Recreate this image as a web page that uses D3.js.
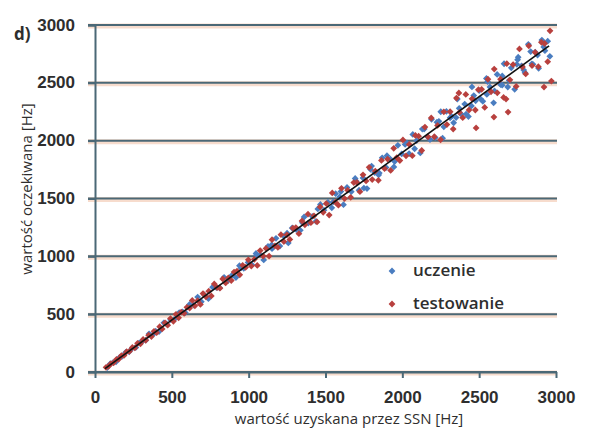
<!DOCTYPE html>
<html>
<head>
<meta charset="utf-8">
<style>
body { margin: 0; background: #fff; }
svg { display: block; font-family: "Open Sans", sans-serif; }
.grid line { stroke: #4b6876; stroke-width: 2; }
.halo line { stroke: #f7dccd; stroke-width: 5; }
.axis text { font-size: 17px; font-weight: 600; fill: #2e2e2e; }
.axis .domain, .axis .tick line { stroke: #4b6876; stroke-width: 2; }
.title { font-size: 15px; fill: #2e2e2e; }
.legend text { font-size: 17px; font-weight: 600; fill: #2e2e2e; }
</style>
<title>wartość oczekiwana vs SSN</title>
</head>
<body>
<svg width="614" height="430"></svg>
<script src="https://d3js.org/d3.v7.min.js"></script>
<script>
// tick labels
var xTicks = [0, 500, 1000, 1500, 2000, 2500, 3000];
var yTicks = [0, 500, 1000, 1500, 2000, 2500, 3000];

// series "uczenie" (blue) [x, y]
var uczenie = [
  [80,39],[98,70],[118,82],[137,88],[160,127],[176,135],[199,169],[222,174],[240,203],[266,212],
  [288,252],[305,261],[331,275],[352,330],[378,325],[395,353],[417,350],[448,425],[466,415],[492,452],
  [515,454],[548,514],[570,520],[588,513],[615,584],[642,578],[668,648],[692,608],[711,667],[738,634],
  [765,733],[790,730],[811,728],[840,819],[866,790],[889,834],[917,816],[940,919],[968,897],[996,947],
  [1021,927],[1048,1025],[1075,1012],[1098,969],[1126,1087],[1152,1066],[1178,1156],[1203,1089],[1230,1174],[1258,1116],
  [1283,1245],[1310,1232],[1336,1225],[1361,1340],[1388,1288],[1414,1345],[1438,1303],[1467,1448],[1490,1399],[1516,1467],
  [1541,1419],[1566,1542],[1592,1513],[1617,1447],[1640,1595],[1668,1559],[1693,1673],[1718,1572],[1744,1678],[1770,1586],
  [1793,1752],[1820,1724],[1846,1704],[1869,1852],[1894,1768],[1922,1841],[1945,1773],[1971,1960],[1996,1885],[2018,1967],
  [2044,1888],[2068,2054],[2093,2001],[2117,1894],[2142,2100],[2166,2032],[2190,2185],[2214,2026],[2238,2167],[2262,2021],
  [2287,2253],[2311,2198],[2334,2155],[2358,2360],[2383,2229],[2406,2316],[2430,2209],[2453,2465],[2477,2345],[2500,2433],
  [2524,2340],[2547,2538],[2570,2464],[2594,2327],[2617,2573],[2640,2484],[2662,2665],[2686,2464],[2709,2630],[2731,2444],
  [2754,2722],[2776,2647],[2798,2588],[2820,2833],[2843,2664],[2865,2765],[2887,2626],[2908,2870],[2928,2778],[2946,2860],
  [2960,2729],
  [2030,1980],[2080,1930],[2130,2100],[2180,2010],[2225,2160],[2270,2120],[2320,2210],[2370,2280],[2415,2230],[2465,2390],
  [2510,2360],[2555,2510],[2600,2430],[2650,2560],[2695,2520],[2745,2660],[2790,2610],[2835,2770],[2880,2740],[2920,2810],
  [2250,2250],[2350,2200],[2450,2300],[2550,2400],[2650,2480],[2750,2700],[2850,2660],[1700,1650],[1750,1590],[1800,1780],
  [1850,1720],[1900,1870],[1950,1820],[1550,1470],[1600,1560],[1450,1410],[1350,1290],[1250,1200],[1150,1100],[1050,1010],
  [950,900]
];

// series "testowanie" (red) [x, y]
var testowanie = [
  [72,40],[88,49],[103,72],[121,79],[140,110],[155,112],[172,142],[189,143],[206,176],[224,178],
  [243,212],[259,208],[277,248],[296,244],[313,281],[330,274],[349,318],[367,306],[384,352],[401,340],
  [421,392],[437,372],[456,425],[473,405],[491,462],[510,438],[527,499],[544,468],
  [561,517],[580,507],[598,559],[616,553],[633,619],[650,572],[668,617],[686,584],[703,678],[722,650],
  [740,699],[757,658],[776,761],[795,730],[813,725],[831,805],[850,770],[868,814],[887,791],[905,864],
  [924,873],[942,840],[961,922],[980,904],[998,970],[1017,916],[1037,974],[1056,921],[1075,1050],[1094,1003],
  [1113,1068],[1133,1002],[1152,1144],[1171,1091],[1190,1077],[1210,1187],[1229,1128],[1249,1186],[1268,1146],[1288,1243],
  [1307,1249],[1327,1196],[1347,1306],[1366,1273],[1386,1364],[1405,1291],[1425,1350],[1445,1297],[1465,1427],[1485,1381],
  [1505,1456],[1524,1357],[1544,1548],[1564,1468],[1584,1442],[1604,1588],[1624,1499],[1644,1572],[1664,1510],[1684,1638],
  [1704,1639],[1724,1559],[1744,1705],[1764,1652],[1784,1770],[1804,1664],[1824,1737],[1844,1657],[1864,1829],[1884,1759],
  [1904,1841],[1924,1743],[1944,1934],[1964,1854],[1984,1828],[2004,2006],[2024,1869],[2045,1967],[2065,1870],[2085,2045],
  [2106,2039],[2126,1915],[2147,2118],[2167,2033],[2188,2196],[2208,2034],[2229,2132],[2249,2008],[2270,2249],[2290,2139],
  [2311,2250],[2331,2100],[2352,2368],[2372,2244],[2393,2199],[2413,2400],[2434,2265],[2454,2362],[2475,2265],[2495,2441],
  [2516,2444],[2536,2287],[2557,2531],[2577,2423],[2598,2619],[2618,2414],[2639,2531],[2659,2374],[2680,2666],[2700,2526],
  [2721,2658],[2741,2469],[2762,2793],[2782,2637],[2803,2577],[2823,2820],[2844,2649],[2864,2764],[2885,2640],[2905,2851],
  [2926,2840],[2946,2683],
  [2961,2950],[2970,2515],[2922,2463],[2688,2247],[2596,2204],[2368,2412],[2480,2110],[2675,2360]
];

// reference line end points
var refLine = [[65, 30], [2955, 2820]];

var svg = d3.select("svg");

var x = d3.scaleLinear().domain([0, 3000]).range([95, 556]);
var y = d3.scaleLinear().domain([0, 3000]).range([372, 25]);

// gridlines with a light halo like the scanned figure
svg.append("g").attr("class", "halo")
  .selectAll("line").data(yTicks).enter().append("line")
    .attr("x1", x(0) - 7).attr("x2", x(3000) + 1)
    .attr("y1", function(d) { return y(d) + 1; })
    .attr("y2", function(d) { return y(d) + 1; });

svg.append("g").attr("class", "grid")
  .selectAll("line").data(yTicks).enter().append("line")
    .attr("x1", x(0) - 7).attr("x2", x(3000) + 1)
    .attr("y1", function(d) { return y(d); })
    .attr("y2", function(d) { return y(d); });

// y axis
svg.append("g")
    .attr("class", "axis")
    .attr("transform", "translate(" + x(0) + ",0)")
    .call(d3.axisLeft(y).tickValues(yTicks).tickSize(7).tickPadding(13)
      .tickFormat(d3.format("d")))
  .selectAll("text").attr("dy", "0.3em");

// x axis
svg.append("g")
    .attr("class", "axis")
    .attr("transform", "translate(0," + y(0) + ")")
    .call(d3.axisBottom(x).tickValues(xTicks).tickSize(6).tickPadding(13)
      .tickSizeOuter(0).tickFormat(d3.format("d")));

var diamond = d3.symbol().type(d3.symbolSquare).size(23);

function drawSeries(data, color) {
  svg.append("g")
    .selectAll("path").data(data).enter().append("path")
      .attr("d", diamond)
      .attr("fill", color)
      .attr("transform", function(d) {
        return "translate(" + x(d[0]) + "," + y(d[1]) + ") rotate(45)";
      });
}

drawSeries(uczenie, "#4a7dc0");
drawSeries(testowanie, "#b8403e");

svg.append("path")
  .datum(refLine)
  .attr("fill", "none")
  .attr("stroke", "#111")
  .attr("stroke-width", 1.6)
  .attr("d", d3.line().x(function(d) { return x(d[0]); }).y(function(d) { return y(d[1]); }));

// legend
var legend = svg.append("g").attr("class", "legend");
var legendItems = [["uczenie", "#4a7dc0", 271], ["testowanie", "#b8403e", 304]];
legend.selectAll("path").data(legendItems).enter().append("path")
  .attr("d", diamond)
  .attr("fill", function(d) { return d[1]; })
  .attr("transform", function(d) { return "translate(392," + d[2] + ") rotate(45)"; });
legend.selectAll("text").data(legendItems).enter().append("text")
  .attr("x", 413).attr("y", function(d) { return d[2] + 5; })
  .text(function(d) { return d[0]; });

// titles
svg.append("text").attr("class", "title")
  .attr("x", 349).attr("y", 424).attr("text-anchor", "middle")
  .text("wartość uzyskana przez SSN [Hz]");

svg.append("text").attr("class", "title")
  .attr("transform", "translate(32,189) rotate(-90)")
  .attr("text-anchor", "middle")
  .text("wartość oczekiwana [Hz]");

svg.append("text")
  .attr("x", 14).attr("y", 40)
  .attr("font-size", 17).attr("font-weight", 700).attr("fill", "#2e2e2e")
  .text("d)");
</script>
</body>
</html>
